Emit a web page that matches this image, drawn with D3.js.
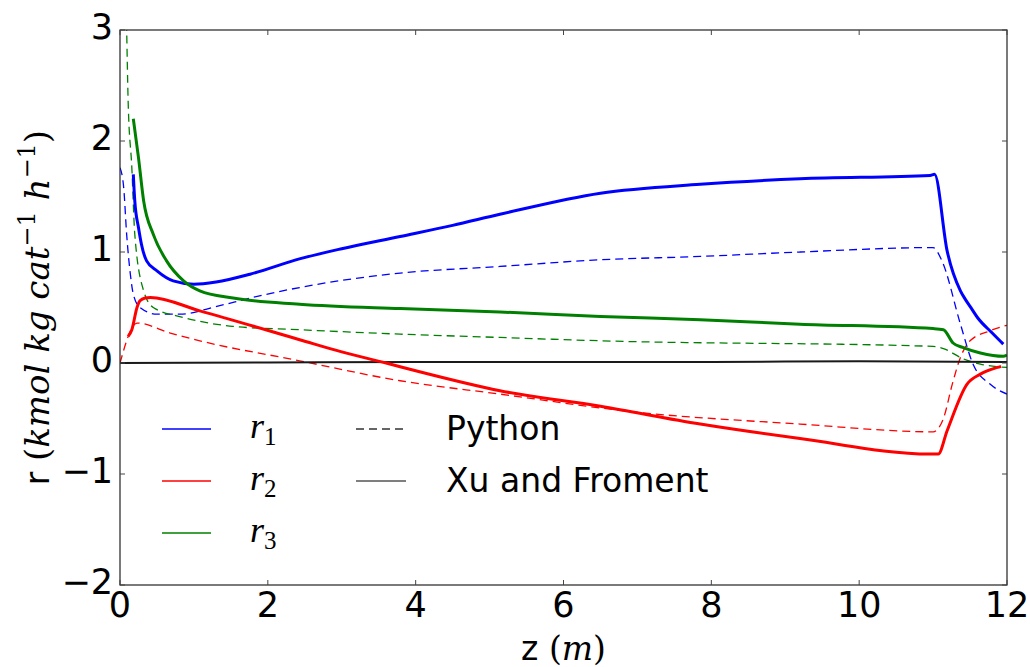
<!DOCTYPE html>
<meta charset="utf-8">
<html>
<style>
body { margin: 0; background: #fff; }
.tick-label { font-family: "DejaVu Sans", sans-serif; font-size: 35px; fill: #000; }
.math { font-family: "DejaVu Serif", serif; }
</style>
<body>
<script src="https://cdn.jsdelivr.net/npm/d3@7"></script>
<script type="text/javascript">

// axis ticks
var xTicks = [0, 2, 4, 6, 8, 10, 12];
var yTicks = [-2, -1, 0, 1, 2, 3];

// r1, Xu and Froment (solid)
var r1XuZ = [0.18, 0.2, 0.25, 0.29, 0.36, 0.5, 0.72, 1.0, 1.3, 1.76, 2.44, 3.0, 3.79, 4.5, 5.14, 6.5, 7.85, 9.2, 10.96, 11.02, 11.19, 11.37, 11.43, 11.5, 11.6, 11.8, 11.95];
var r1XuR = [1.70, 1.46, 1.22, 1.07, 0.92, 0.83, 0.74, 0.71, 0.73, 0.80, 0.94, 1.03, 1.14, 1.24, 1.34, 1.53, 1.61, 1.66, 1.69, 1.70, 1.01, 0.65, 0.58, 0.51, 0.41, 0.27, 0.17];
// r1, Python (dashed)
var r1PyZ = [0.0, 0.05, 0.09, 0.14, 0.18, 0.27, 0.5, 0.81, 1.31, 1.76, 2.43, 3.79, 5.14, 6.5, 7.85, 9.2, 11.0, 11.12, 11.37, 11.54, 11.77, 12.0];
var r1PyR = [1.76, 1.58, 1.16, 0.80, 0.62, 0.50, 0.44, 0.44, 0.51, 0.585, 0.68, 0.81, 0.87, 0.93, 0.96, 1.0, 1.04, 0.92, 0.35, -0.01, -0.19, -0.28];

// r2, Xu and Froment
var r2XuZ = [0.11, 0.16, 0.23, 0.27, 0.34, 0.41, 1.08, 2.43, 3.0, 3.6, 4.0, 5.14, 6.5, 7.85, 9.2, 10.96, 11.07, 11.19, 11.46, 11.64, 11.87, 11.92];
var r2XuR = [0.24, 0.30, 0.50, 0.56, 0.585, 0.59, 0.47, 0.21, 0.10, 0.0, -0.07, -0.25, -0.39, -0.55, -0.68, -0.82, -0.82, -0.61, -0.19, -0.10, -0.04, -0.03];
// r2, Python
var r2PyZ = [0.0, 0.23, 0.68, 1.08, 2.43, 3.79, 5.14, 6.94, 9.2, 11.0, 11.07, 11.14, 11.26, 11.37, 11.5, 11.77, 12.0];
var r2PyR = [0.0, 0.36, 0.27, 0.20, 0.02, -0.16, -0.28, -0.44, -0.55, -0.62, -0.59, -0.50, -0.19, 0.05, 0.20, 0.29, 0.34];

// r3, Xu and Froment
var r3XuZ = [0.18, 0.25, 0.32, 0.45, 0.63, 0.86, 1.08, 1.53, 2.43, 3.79, 5.14, 6.5, 7.85, 9.2, 11.0, 11.14, 11.27, 11.4, 11.64, 11.95, 12.0];
var r3XuR = [2.20, 1.85, 1.46, 1.16, 0.92, 0.74, 0.65, 0.585, 0.53, 0.49, 0.46, 0.42, 0.39, 0.35, 0.31, 0.30, 0.18, 0.14, 0.09, 0.06, 0.07];
// r3, Python
var r3PyZ = [0.08, 0.09, 0.11, 0.16, 0.2, 0.32, 0.45, 0.86, 1.53, 2.43, 3.79, 5.14, 6.5, 11.0, 11.14, 11.4, 11.64, 12.0];
var r3PyR = [3.3, 3.0, 2.36, 1.76, 1.16, 0.65, 0.50, 0.41, 0.33, 0.30, 0.26, 0.23, 0.20, 0.15, 0.13, 0.04, -0.01, -0.04];

// black line near zero
var baseZ = [0, 2, 4, 6, 8, 10, 12];
var baseR = [0.0, 0.005, 0.01, 0.01, 0.01, 0.015, 0.01];

var width = 1030, height = 667;
var pLeft = 120, pRight = 1007, pTop = 30, pBottom = 585;

var x = d3.scaleLinear().domain([0, 12]).range([pLeft, pRight]);
var y = d3.scaleLinear().domain([-2, 3]).range([pBottom, pTop]);

var svg = d3.select("body").append("svg")
    .attr("width", width)
    .attr("height", height);

svg.append("defs").append("clipPath").attr("id", "plotClip")
    .append("rect")
    .attr("x", pLeft).attr("y", pTop)
    .attr("width", pRight - pLeft).attr("height", pBottom - pTop);

function zip(zs, rs) {
  return zs.map(function(z, i) { return [z, rs[i]]; });
}

var line = d3.line()
    .x(function(d) { return x(d[0]); })
    .y(function(d) { return y(d[1]); })
    .curve(d3.curveMonotoneX);

var series = [
  {pts: zip(r1PyZ, r1PyR), color: "#0000ff", dash: true},
  {pts: zip(r2PyZ, r2PyR), color: "#ff0000", dash: true},
  {pts: zip(r3PyZ, r3PyR), color: "#008000", dash: true},
  {pts: zip(baseZ, baseR), color: "#1a1a1a", dash: false, w: 2},
  {pts: zip(r1XuZ, r1XuR), color: "#0000ff", dash: false},
  {pts: zip(r2XuZ, r2XuR), color: "#ff0000", dash: false},
  {pts: zip(r3XuZ, r3XuR), color: "#008000", dash: false}
];

var plot = svg.append("g").attr("clip-path", "url(#plotClip)");

plot.selectAll("path.series")
    .data(series)
    .enter().append("path")
    .attr("class", "series")
    .attr("d", function(d) { return line(d.pts); })
    .attr("fill", "none")
    .attr("stroke", function(d) { return d.color; })
    .attr("stroke-width", function(d) { return d.dash ? 1.3 : (d.w || 3); })
    .attr("stroke-dasharray", function(d) { return d.dash ? "8,5" : null; })
    .attr("stroke-linejoin", "round");

// frame
svg.append("rect")
    .attr("x", pLeft).attr("y", pTop)
    .attr("width", pRight - pLeft).attr("height", pBottom - pTop)
    .attr("fill", "none")
    .attr("stroke", "#222")
    .attr("stroke-width", 1.2);

// inward ticks on all four sides
var tickLen = 5;
var tk = svg.append("g").attr("stroke", "#444").attr("stroke-width", 1);
xTicks.forEach(function(t) {
  tk.append("line").attr("x1", x(t)).attr("x2", x(t)).attr("y1", pBottom).attr("y2", pBottom - tickLen);
  tk.append("line").attr("x1", x(t)).attr("x2", x(t)).attr("y1", pTop).attr("y2", pTop + tickLen);
});
yTicks.forEach(function(t) {
  tk.append("line").attr("y1", y(t)).attr("y2", y(t)).attr("x1", pLeft).attr("x2", pLeft + tickLen);
  tk.append("line").attr("y1", y(t)).attr("y2", y(t)).attr("x1", pRight).attr("x2", pRight - tickLen);
});

function fmt(v) { return v < 0 ? "\u2212" + Math.abs(v) : String(v); }

svg.selectAll("text.xt")
    .data(xTicks)
    .enter().append("text")
    .attr("class", "tick-label")
    .attr("x", function(d) { return x(d); })
    .attr("y", 617)
    .attr("text-anchor", "middle")
    .text(fmt);

svg.selectAll("text.yt")
    .data(yTicks)
    .enter().append("text")
    .attr("class", "tick-label")
    .attr("x", 113)
    .attr("y", function(d) { return y(d) + 9; })
    .attr("text-anchor", "end")
    .text(fmt);

// x label: z (m)
var xl = svg.append("text")
    .attr("x", (pLeft + pRight) / 2)
    .attr("y", 660)
    .attr("text-anchor", "middle")
    .attr("font-size", 33);
xl.append("tspan").attr("font-family", "DejaVu Sans").text("z ");
xl.append("tspan").attr("class", "math").text("(");
xl.append("tspan").attr("class", "math").attr("font-style", "italic").text("m");
xl.append("tspan").attr("class", "math").text(")");

// y label: r (kmol kg cat^-1 h^-1)
var yl = svg.append("text")
    .attr("transform", "translate(49," + ((pTop + pBottom) / 2) + ") rotate(-90)")
    .attr("text-anchor", "middle")
    .attr("font-size", 34);
yl.append("tspan").attr("font-family", "DejaVu Sans").attr("font-size", 33).text("r ");
yl.append("tspan").attr("class", "math").text("(");
yl.append("tspan").attr("class", "math").attr("font-style", "italic").text("kmol kg cat");
yl.append("tspan").attr("class", "math").attr("font-size", 24).attr("dy", -14).text("\u22121");
yl.append("tspan").attr("class", "math").attr("font-style", "italic").attr("dy", 14).text(" h");
yl.append("tspan").attr("class", "math").attr("font-size", 24).attr("dy", -14).text("\u22121");
yl.append("tspan").attr("class", "math").attr("dy", 14).text(")");

// legend
var legendRates = [
  {name: "r", sub: "1", color: "#0000ff", y: 429},
  {name: "r", sub: "2", color: "#ff0000", y: 481},
  {name: "r", sub: "3", color: "#008000", y: 533}
];
var legendStyles = [
  {name: "Python", dash: "8,5", color: "#333", y: 429},
  {name: "Xu and Froment", dash: null, color: "#555", y: 481}
];

var lg = svg.append("g");
legendRates.forEach(function(d) {
  lg.append("line")
    .attr("x1", 162).attr("x2", 211).attr("y1", d.y).attr("y2", d.y)
    .attr("stroke", d.color).attr("stroke-width", 1.6);
  var t = lg.append("text").attr("x", 250).attr("y", d.y + 9)
    .attr("font-family", "Liberation Serif").attr("font-size", 36);
  t.append("tspan").attr("font-style", "italic").text(d.name);
  t.append("tspan").attr("font-size", 25).attr("dy", 7).text(d.sub);
});
legendStyles.forEach(function(d) {
  lg.append("line")
    .attr("x1", 356).attr("x2", 406).attr("y1", d.y).attr("y2", d.y)
    .attr("stroke", d.color).attr("stroke-width", 1.6)
    .attr("stroke-dasharray", d.dash);
  lg.append("text")
    .attr("x", 446).attr("y", d.y + 11)
    .attr("font-family", "DejaVu Sans").attr("font-size", 33)
    .text(d.name);
});

</script>
</body>
</html>
